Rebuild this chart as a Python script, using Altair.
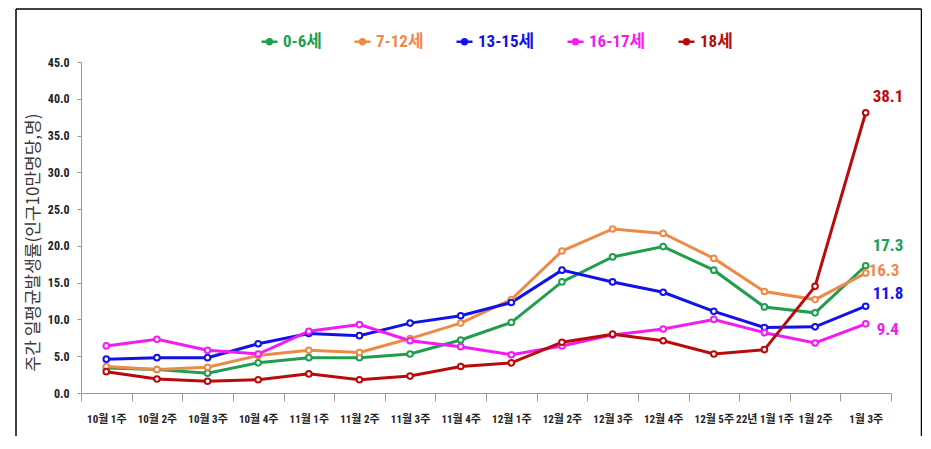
import altair as alt
import pandas as pd

weeks = ["10월 1주", "10월 2주", "10월 3주", "10월 4주", "11월 1주", "11월 2주",
         "11월 3주", "11월 4주", "12월 1주", "12월 2주", "12월 3주", "12월 4주",
         "12월 5주", "22년 1월 1주", "1월 2주", "1월 3주"]
series_names = ["0-6세", "7-12세", "13-15세", "16-17세", "18세"]
age_0_6 = [3.4, 3.2, 2.7, 4.1, 4.8, 4.8, 5.3, 7.2, 9.6, 15.1, 18.5, 19.9, 16.7, 11.7, 10.9, 17.3]
age_7_12 = [3.6, 3.2, 3.5, 5.1, 5.8, 5.5, 7.4, 9.5, 12.7, 19.3, 22.3, 21.7, 18.3, 13.8, 12.7, 16.3]
age_13_15 = [4.6, 4.8, 4.8, 6.7, 8.1, 7.8, 9.5, 10.5, 12.3, 16.7, 15.1, 13.7, 11.1, 8.9, 9.0, 11.8]
age_16_17 = [6.4, 7.3, 5.8, 5.3, 8.4, 9.3, 7.1, 6.3, 5.2, 6.4, 7.9, 8.7, 10.0, 8.2, 6.8, 9.4]
age_18 = [2.9, 1.9, 1.6, 1.8, 2.6, 1.8, 2.3, 3.6, 4.1, 6.9, 8.0, 7.1, 5.3, 5.9, 14.5, 38.1]
colors = ["#1f9e4f", "#ee8a48", "#1212e8", "#f21cf2", "#b80b0b"]

rows = []
for name, vals in zip(series_names, [age_0_6, age_7_12, age_13_15, age_16_17, age_18]):
    for w, v in zip(weeks, vals):
        rows.append({"week": w, "series": name, "value": v})
df = pd.DataFrame(rows)
df_last = df[df["week"] == weeks[-1]]

NUM_FONT = "Roboto Condensed, Liberation Sans Narrow, Noto Sans CJK KR, sans-serif"
color_scale = alt.Scale(domain=series_names, range=colors)

x_enc = alt.X("week:N", sort=weeks,
              scale=alt.Scale(type="band", paddingInner=0, paddingOuter=0),
              axis=alt.Axis(title=None, labelAngle=0, tickBand="extent", tickSize=8,
                            labelPadding=12, domainColor="#999", tickColor="#999",
                            labelFont=NUM_FONT, labelFontSize=11, labelFontWeight="bold",
                            labelColor="#222", labelOverlap=False))
y_enc = alt.Y("value:Q", scale=alt.Scale(domain=[0, 45], nice=False),
              axis=alt.Axis(values=list(range(0, 46, 5)), format=".1f", grid=False,
                            tickSize=4, labelPadding=8, domainColor="#999", tickColor="#999",
                            labelFont=NUM_FONT, labelFontSize=12, labelFontWeight="bold",
                            labelColor="#222",
                            title="주간 일평균발생률(인구10만명당,명)",
                            titleFont="Noto Sans CJK KR", titleFontSize=17,
                            titleFontWeight="normal", titleColor="#3a3a3a",
                            titleAngle=-90, titleX=-48, titleY=180,
                            titleAlign="center", titleBaseline="middle"))

sym_path = "M-1,0H-0.3M0.3,0H1M-0.3,0A0.3,0.3,0,1,1,0.3,0A0.3,0.3,0,1,1,-0.3,0"

base = alt.Chart(df)
lines = base.mark_line(strokeWidth=3).encode(
    x=x_enc, y=y_enc,
    color=alt.Color("series:N", sort=series_names, scale=color_scale,
                    legend=alt.Legend(orient="none", legendX=179, legendY=-30,
                                      direction="horizontal", title=None,
                                      symbolType=sym_path, symbolSize=256,
                                      symbolStrokeWidth=2.5, labelFont=NUM_FONT,
                                      labelFontSize=17, labelFontWeight="bold",
                                      columnPadding=27, labelOffset=4,
                                      labelColor=alt.ExprRef("scale('color', datum.value)"))),
)
points = base.mark_point(filled=True, fill="white", size=32, strokeWidth=2, opacity=1).encode(
    x=x_enc, y=y_enc,
    stroke=alt.Stroke("series:N", scale=color_scale, legend=None),
)

offsets = {"0-6세": (7, -20), "7-12세": (3, -2), "13-15세": (7, -12),
           "16-17세": (11, 6), "18세": (7, -16)}
label_layers = []
for name in series_names:
    dx, dy = offsets[name]
    label_layers.append(
        alt.Chart(df_last[df_last["series"] == name]).mark_text(
            align="left", baseline="middle", dx=dx, dy=dy, font=NUM_FONT,
            fontSize=17, fontWeight="bold").encode(
            x=x_enc, y=y_enc, text=alt.Text("value:Q", format=".1f"),
            fill=alt.Fill("series:N", scale=color_scale, legend=None))
    )

frame_df = pd.DataFrame({"k": [0]})
frame_left = alt.Chart(frame_df).mark_rule(color="black", strokeWidth=1.5).encode(
    x=alt.value(-65), y=alt.value(-53), y2=alt.value(380))
frame_right = alt.Chart(frame_df).mark_rule(color="black", strokeWidth=1.5).encode(
    x=alt.value(840.5), y=alt.value(-53), y2=alt.value(380))
frame_top = alt.Chart(frame_df).mark_rule(color="black", strokeWidth=1.5).encode(
    x=alt.value(-65), x2=alt.value(840.5), y=alt.value(-53))

chart = alt.layer(lines, points, *label_layers, frame_left, frame_right, frame_top).properties(
    width=810, height=331,
    padding={"left": 73, "top": 54, "right": 31, "bottom": 43},
    autosize=alt.AutoSizeParams(type="none"),
).configure_view(stroke=None)

chart.save("out.html", embed_options={"renderer": "svg", "actions": False})
